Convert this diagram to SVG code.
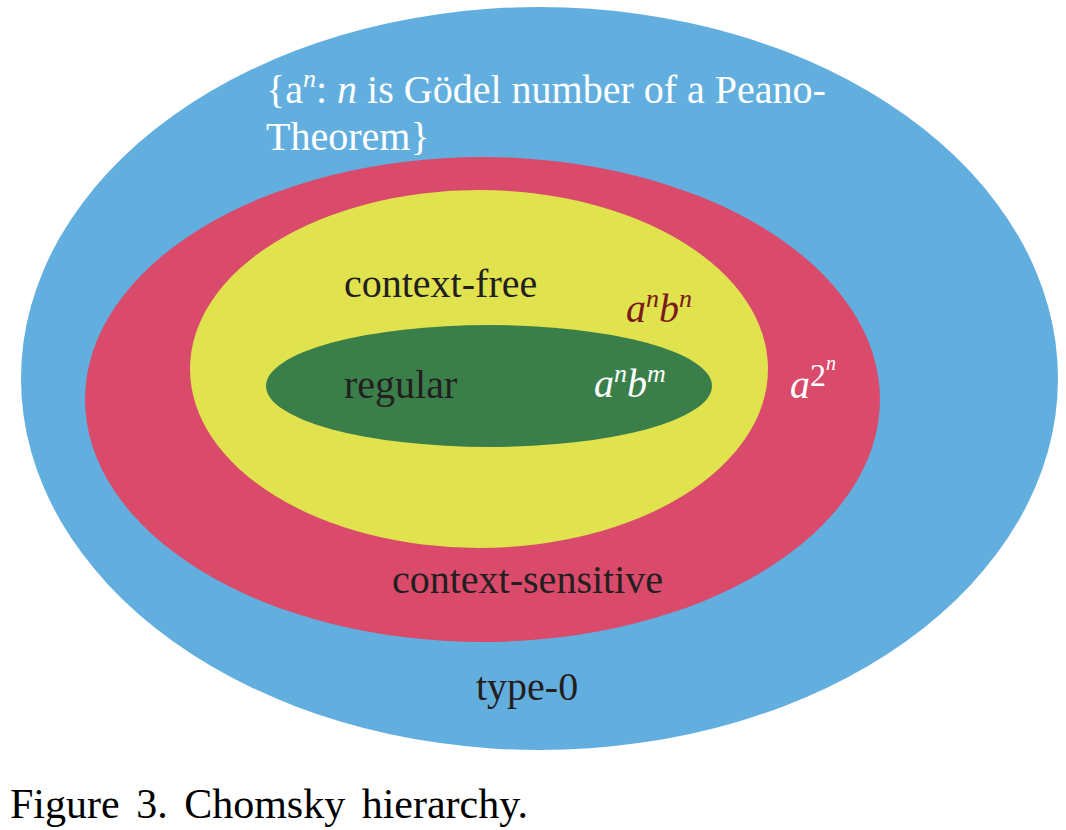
<svg xmlns="http://www.w3.org/2000/svg" width="1066" height="830" viewBox="0 0 1066 830">
<style>
text{font-family:"Liberation Serif","Times New Roman",serif;}
.dk{fill:#231F20;font-size:40px;}
.wh{fill:#FFFFFF;}
.it{font-style:italic;}
</style>
<rect width="1066" height="830" fill="#FFFFFF"/>
<g id="type0"><ellipse cx="539.5" cy="378.5" rx="518.5" ry="371.5" fill="#62AFDF"/></g>
<g id="context-sensitive"><ellipse cx="482.5" cy="399.5" rx="397.5" ry="242.5" fill="#DA4A6B"/></g>
<g id="context-free"><ellipse cx="479" cy="369" rx="289" ry="179" fill="#E0E24E"/></g>
<g id="regular"><ellipse cx="489" cy="386" rx="223" ry="61" fill="#3A7F4A"/></g>
<g id="labels">
<text x="266" y="103" class="wh" font-size="40">{a<tspan class="it" font-size="26" dy="-16">n</tspan><tspan dy="16">: </tspan><tspan class="it">n</tspan> is Gödel number of a Peano-</text>
<text x="266" y="150" class="wh" font-size="40">Theorem}</text>
<text x="344" y="297" class="dk">context-free</text>
<text x="626" y="322" class="it" font-size="40" fill="#7B1A1A">a<tspan font-size="26" dy="-15">n</tspan><tspan dy="15">b</tspan><tspan font-size="26" dy="-15">n</tspan></text>
<text x="344" y="398" class="dk">regular</text>
<text x="594" y="397" class="wh it" font-size="40">a<tspan font-size="26" dy="-15">n</tspan><tspan dy="15">b</tspan><tspan font-size="26" dy="-15">m</tspan></text>
<text x="790" y="398" class="wh it" font-size="40">a<tspan font-style="normal" font-size="32" dy="-12">2</tspan><tspan font-size="20" dy="-16">n</tspan></text>
<text x="392" y="593" class="dk">context-sensitive</text>
<text x="476" y="700" class="dk">type-0</text>
</g>
<text x="10" y="818" fill="#000000" font-size="42" word-spacing="6">Figure 3. Chomsky hierarchy.</text>
</svg>
